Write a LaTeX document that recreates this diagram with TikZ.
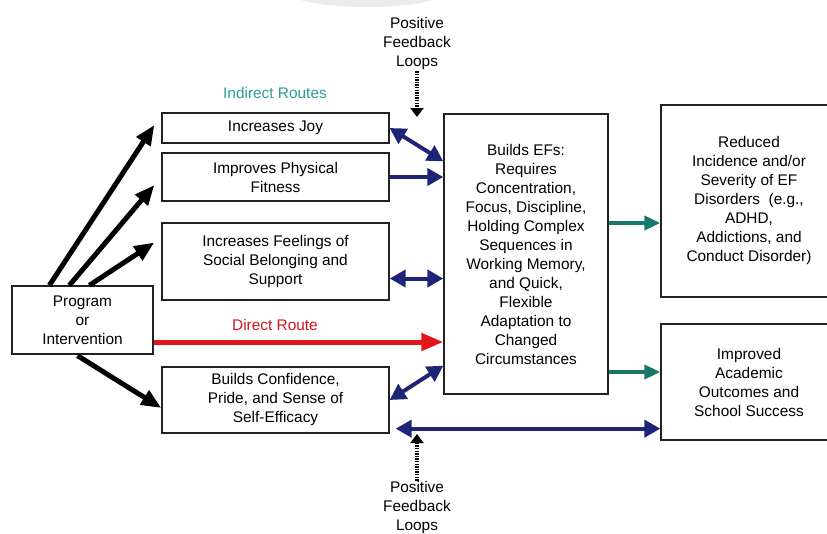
\documentclass[tikz,border=0pt]{standalone}
\usepackage{fontspec}
\setmainfont{Liberation Sans}
\usepackage{xcolor}
\usepackage{tikz}
\usetikzlibrary{arrows.meta,positioning,calc}
\definecolor{efink}{HTML}{222222}
\definecolor{efnavy}{HTML}{1E2577}
\definecolor{efteal}{HTML}{17776B}
\definecolor{efred}{HTML}{E3141B}
\definecolor{efroute}{HTML}{2C9C98}
\definecolor{efroutered}{HTML}{D3131C}

\begin{document}
\begin{tikzpicture}[x=1pt,y=-1pt,font=\fontsize{15.4}{19}\selectfont,
    box/.style={draw=efink,line width=1.3pt,align=center,inner sep=0pt},
    push/.style={line width=5pt,-{Triangle[length=20pt,width=16pt]}},
    feed/.style={efnavy,line width=4pt,{Triangle[length=16pt,width=17pt]}-{Triangle[length=16pt,width=17pt]}},
    outcome/.style={efteal,line width=4pt,-{Triangle[length=16pt,width=14pt]}},
    loopnote/.style={align=center,inner sep=1pt},
    looparrow/.style={line width=3.2pt,dash pattern=on 1.4pt off 1.2pt,-{Triangle[length=9pt,width=13pt]}}]
    \clip (0,0) rectangle (827,533);
    \fill[black!8] (367,-10) ellipse (82 and 17);
    % boxes
    \node[box,minimum width=141pt,minimum height=68pt] (prog) at (82.5,320) {Program\\or\\Intervention};
    \node[box,minimum width=227pt,minimum height=30pt] (joy) at (275.5,128) {Increases Joy};
    \node[box,minimum width=227pt,minimum height=48pt] (fit) at (275.5,177) {Improves Physical\\Fitness};
    \node[box,minimum width=227pt,minimum height=77pt] (soc) at (275.5,261.5) {Increases Feelings of\\Social Belonging and\\Support};
    \node[box,minimum width=227pt,minimum height=66pt] (conf) at (275.5,400) {Builds Confidence,\\Pride, and Sense of\\Self-Efficacy};
    \node[box,minimum width=164pt,minimum height=280pt] (ef) at (526,254) {Builds EFs:\\Requires\\Concentration,\\Focus, Discipline,\\Holding Complex\\Sequences in\\Working Memory,\\and Quick,\\Flexible\\Adaptation to\\Changed\\Circumstances};
    \node[box,minimum width=176pt,minimum height=192pt] (dis) at (749,201) {Reduced\\Incidence and/or\\Severity of EF\\Disorders\ \ (e.g.,\\ADHD,\\Addictions, and\\Conduct Disorder)};
    \node[box,minimum width=176pt,minimum height=116pt] (acad) at (749,382) {Improved\\Academic\\Outcomes and\\School Success};
    % labels
    \node[text=efroute] (indirect) at (275,93) {Indirect Routes};
    \node[text=efroutered] (direct) at (275,325) {Direct Route};
    \node[loopnote] (fbtop) at (417,44) {Positive\\Feedback\\Loops};
    \node[loopnote] (fbbot) at (417,508) {Positive\\Feedback\\Loops};
    % routes
    \draw[push] ($(prog.north west)+(38,0)$) -- ($(joy.west)+(-7,-3)$);
    \draw[push] ($(prog.north west)+(58,0)$) -- ($(fit.west)+(-7,8)$);
    \draw[push] ($(prog.north west)+(78,0)$) -- ($(soc.west)+(-7,-19)$);
    \draw[push] ($(prog.south)+(-5,1)$) -- ($(conf.west)+(0,8)$);
    \draw[efred,line width=5pt,-{Triangle[length=22pt,width=17pt]}] ($(prog.east)+(0,22)$) coordinate (d0) -- (d0 -| ef.west);
    % feedback
    \draw[feed] (joy.east) -- ($(ef.north west)+(0,48)$);
    \draw[efnavy,line width=4pt,-{Triangle[length=16pt,width=17pt]}] (fit.east) -- (fit.east -| ef.west);
    \draw[feed] ($(soc.east)+(0,17)$) coordinate (s0) -- (s0 -| ef.west);
    \draw[feed] (conf.east) -- ($(ef.south west)+(0,-29)$);
    \draw[feed] ($(conf.south east)+(6,-5)$) coordinate (b0) -- (b0 -| acad.west);
    \draw[outcome] ($(dis.west -| ef.east)+(0,22)$) coordinate (o1) -- (o1 -| dis.west);
    \draw[outcome] ($(acad.west -| ef.east)+(0,-10)$) coordinate (o2) -- (o2 -| acad.west);
    % loops
    \coordinate (fbtoptip) at (417,117);
    \coordinate (fbbottip) at (417,434);
    \draw[looparrow] (fbtop.south) -- (fbtoptip);
    \draw[looparrow] (fbbot.north) -- (fbbottip);
  \end{tikzpicture}
\end{document}
